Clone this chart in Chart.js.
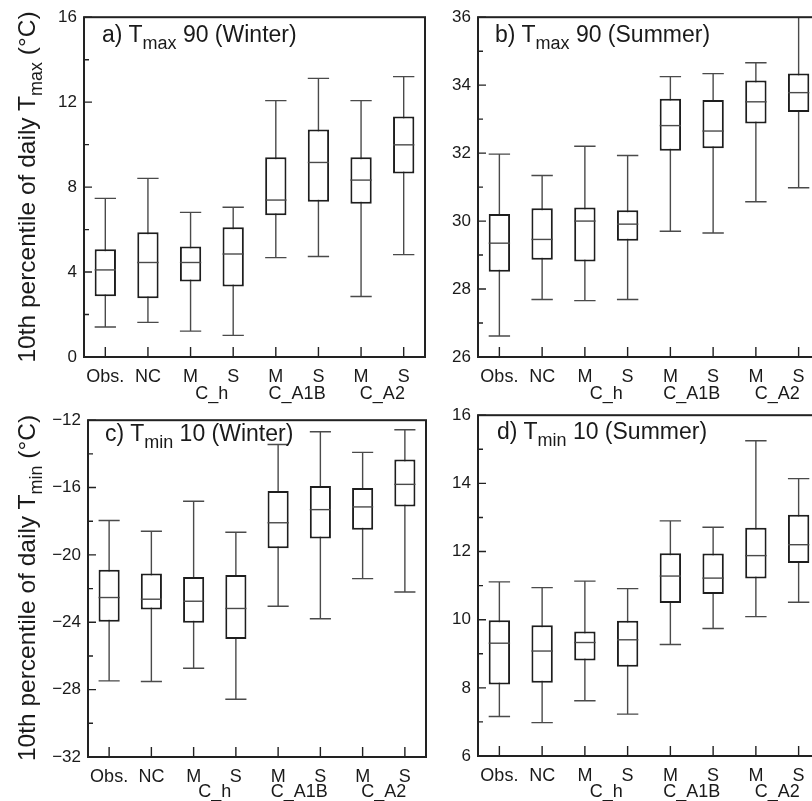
<!DOCTYPE html>
<html>
<head>
<meta charset="utf-8">
<script src="https://cdn.jsdelivr.net/npm/chart.js@4.4.0/dist/chart.umd.min.js"></script>
<style>
html, body { margin: 0; padding: 0; width: 812px; height: 801px; overflow: hidden; background: #fff; }
body { position: relative; font-family: "Liberation Sans", Arial, Helvetica, sans-serif; color: #1a1a1a; }
canvas { position: absolute; }
.ttl { position: absolute; font-size: 23px; line-height: 23px; white-space: nowrap; }
.ttl sub, .ylab sub { font-size: 18px; vertical-align: baseline; position: relative; top: 7px; }
.ylab { position: absolute; width: 400px; height: 30px; line-height: 30px; font-size: 24.5px; text-align: center; white-space: nowrap; transform: rotate(-90deg); }
</style>
</head>
<body>
<canvas id="pa" width="400" height="404" style="left:36px;top:0px"></canvas>
<canvas id="pb" width="401" height="404" style="left:430px;top:0px"></canvas>
<canvas id="pc" width="397" height="398" style="left:40px;top:403px"></canvas>
<canvas id="pd" width="401" height="403" style="left:430px;top:398px"></canvas>

<div class="ttl" style="left:102px;top:23px">a) T<sub>max</sub> 90 (Winter)</div>
<div class="ttl" style="left:495px;top:23px">b) T<sub>max</sub> 90 (Summer)</div>
<div class="ttl" style="left:105px;top:422px">c) T<sub>min</sub> 10 (Winter)</div>
<div class="ttl" style="left:497px;top:420px">d) T<sub>min</sub> 10 (Summer)</div>
<div class="ylab" style="left:-173px;top:172px">10th percentile of daily T<sub>max</sub> (°C)</div>
<div class="ylab" style="left:-173px;top:573px">10th percentile of daily T<sub>min</sub> (°C)</div>

<script>
const categories = ['Obs.', 'NC', 'M', 'S', 'M', 'S', 'M', 'S'];
const groups = ['', 'C_h', 'C_A1B', 'C_A2'];

// a) Tmax 90 winter
const aLow  = [1.41, 1.63, 1.22, 1.02, 4.68, 4.73, 2.85, 4.82];
const aQ1   = [2.86, 2.77, 3.55, 3.32, 6.68, 7.31, 7.22, 8.64];
const aMed  = [4.10, 4.45, 4.45, 4.85, 7.39, 9.16, 8.33, 9.99];
const aQ3   = [5.07, 5.87, 5.20, 6.11, 9.41, 10.71, 9.41, 11.32];
const aHigh = [7.47, 8.41, 6.81, 7.05, 12.07, 13.12, 12.07, 13.20];

// b) Tmax 90 summer
const bLow  = [26.62, 27.69, 27.66, 27.69, 29.70, 29.65, 30.57, 30.98];
const bQ1   = [28.51, 28.86, 28.81, 29.42, 32.07, 32.14, 32.87, 33.21];
const bMed  = [29.35, 29.46, 30.00, 29.91, 32.81, 32.65, 33.51, 33.78];
const bQ3   = [30.21, 30.38, 30.40, 30.32, 33.60, 33.56, 34.14, 34.34];
const bHigh = [31.97, 31.34, 32.20, 31.93, 34.25, 34.34, 34.66, 36.40];

// c) Tmin 10 winter
const cLow  = [-27.48, -27.52, -26.73, -28.57, -23.05, -23.79, -21.41, -22.20];
const cQ1   = [-23.97, -23.24, -24.03, -25.00, -19.61, -19.02, -18.51, -17.13];
const cMed  = [-22.53, -22.63, -22.75, -23.18, -18.09, -17.31, -17.15, -15.81];
const cQ3   = [-20.88, -21.11, -21.31, -21.19, -16.20, -15.91, -16.02, -14.33];
const cHigh = [-17.96, -18.59, -16.81, -18.65, -13.44, -12.69, -13.91, -12.57];

// d) Tmin 10 summer
const dLow  = [7.16, 6.98, 7.62, 7.23, 9.27, 9.74, 10.09, 10.51];
const dQ1   = [8.10, 8.15, 8.80, 8.62, 10.49, 10.75, 11.21, 11.66];
const dMed  = [9.31, 9.08, 9.33, 9.41, 11.28, 11.22, 11.88, 12.20];
const dQ3   = [9.98, 9.84, 9.65, 9.97, 11.95, 11.94, 12.70, 13.08];
const dHigh = [11.11, 10.94, 11.13, 10.91, 12.90, 12.71, 15.25, 14.14];

Chart.defaults.font.family = '"Liberation Sans", Arial, Helvetica, sans-serif';
Chart.defaults.color = '#1a1a1a';

// whiskers behind the boxes, medians on top, then frame and inward ticks
const boxPlot = {
   id: 'boxPlot',
   beforeDatasetsDraw(chart) {
      const { ctx, chartArea: a, scales: { x, y } } = chart;
      const ds = chart.data.datasets[0];
      const meta = chart.getDatasetMeta(0);
      ctx.save();
      ctx.beginPath();
      ctx.rect(a.left, a.top, a.width, a.height);
      ctx.clip();
      ctx.strokeStyle = '#4a4a4a';
      ctx.lineWidth = 1.4;
      ds.low.forEach((lo, i) => {
         const cx = x.getPixelForValue(i);
         const w = meta.data[i].width / 2;
         const yl = y.getPixelForValue(lo), yh = y.getPixelForValue(ds.high[i]);
         ctx.beginPath();
         ctx.moveTo(cx, yl); ctx.lineTo(cx, yh);
         ctx.moveTo(cx - w, yl); ctx.lineTo(cx + w, yl);
         ctx.moveTo(cx - w, yh); ctx.lineTo(cx + w, yh);
         ctx.stroke();
      });
      ctx.restore();
   },
   afterDatasetsDraw(chart) {
      const { ctx, scales: { x, y } } = chart;
      const ds = chart.data.datasets[0];
      const meta = chart.getDatasetMeta(0);
      ctx.save();
      ctx.strokeStyle = '#4a4a4a';
      ctx.lineWidth = 1.4;
      ds.med.forEach((m, i) => {
         const cx = x.getPixelForValue(i);
         const w = meta.data[i].width / 2;
         const ym = y.getPixelForValue(m);
         ctx.beginPath();
         ctx.moveTo(cx - w, ym); ctx.lineTo(cx + w, ym);
         ctx.stroke();
      });
      ctx.restore();
   },
   afterDraw(chart) {
      const { ctx, chartArea: a, scales: { x, y } } = chart;
      const ds = chart.data.datasets[0];
      ctx.save();
      ctx.strokeStyle = '#222';
      ctx.lineWidth = 1.4;
      ctx.beginPath();
      for (let v = y.min; v <= y.max; v += ds.minorStep) {
         const py = y.getPixelForValue(v);
         const len = (v % ds.labelStep === 0) ? 8 : 5;
         ctx.moveTo(a.left, py); ctx.lineTo(a.left + len, py);
      }
      categories.forEach((c, i) => {
         const px = x.getPixelForValue(i);
         ctx.moveTo(px, a.bottom); ctx.lineTo(px, a.bottom - 10);
      });
      ctx.stroke();
      ctx.lineWidth = 2;
      ctx.strokeRect(a.left, a.top, a.width, a.height);
      ctx.restore();
   }
};

function makePanel(id, low, q1, med, q3, high, yMin, yMax, labelStep, minorStep, groupH, groupPad) {
   return new Chart(document.getElementById(id), {
      type: 'bar',
      data: {
         labels: categories,
         datasets: [{
            data: q1.map((v, i) => [v, q3[i]]),
            low: low, med: med, high: high,
            labelStep: labelStep, minorStep: minorStep,
            xAxisID: 'x',
            backgroundColor: '#fff',
            borderColor: '#1e1e1e',
            borderWidth: 2,
            borderSkipped: false,
            barPercentage: 0.5,
            categoryPercentage: 1
         }]
      },
      options: {
         responsive: false,
         animation: false,
         devicePixelRatio: 1,
         layout: { padding: { top: 16, right: 11, left: 0, bottom: 0 } },
         plugins: { legend: { display: false }, tooltip: { enabled: false } },
         scales: {
            x: {
               type: 'category',
               offset: true,
               grid: { display: false, drawTicks: false },
               border: { display: false },
               ticks: { font: { size: 18 }, padding: 9, maxRotation: 0, autoSkip: false },
               afterFit: s => { s.height = 27; }
            },
            x2: {
               type: 'category',
               axis: 'x',
               position: 'bottom',
               labels: groups,
               offset: true,
               grid: { display: false, drawTicks: false },
               border: { display: false },
               ticks: { font: { size: 18 }, padding: groupPad, maxRotation: 0, autoSkip: false },
               afterFit: s => { s.height = groupH; }
            },
            y: {
               min: yMin,
               max: yMax,
               grid: { display: false, drawTicks: false },
               border: { display: false },
               ticks: {
                  stepSize: minorStep,
                  font: { size: 17 },
                  padding: 7,
                  callback: v => (v % labelStep === 0 ? String(v).replace('-', '\u2212') : '')
               },
               afterFit: s => { s.width = 48; }
            }
         }
      },
      plugins: [boxPlot]
   });
}

makePanel('pa', aLow, aQ1, aMed, aQ3, aHigh, 0, 16, 4, 2, 20, -1);
makePanel('pb', bLow, bQ1, bMed, bQ3, bHigh, 26, 36, 2, 1, 20, -1);
makePanel('pc', cLow, cQ1, cMed, cQ3, cHigh, -32, -12, 4, 2, 17, -3);
makePanel('pd', dLow, dQ1, dMed, dQ3, dHigh, 6, 16, 2, 1, 18, -2);
</script>
</body>
</html>
